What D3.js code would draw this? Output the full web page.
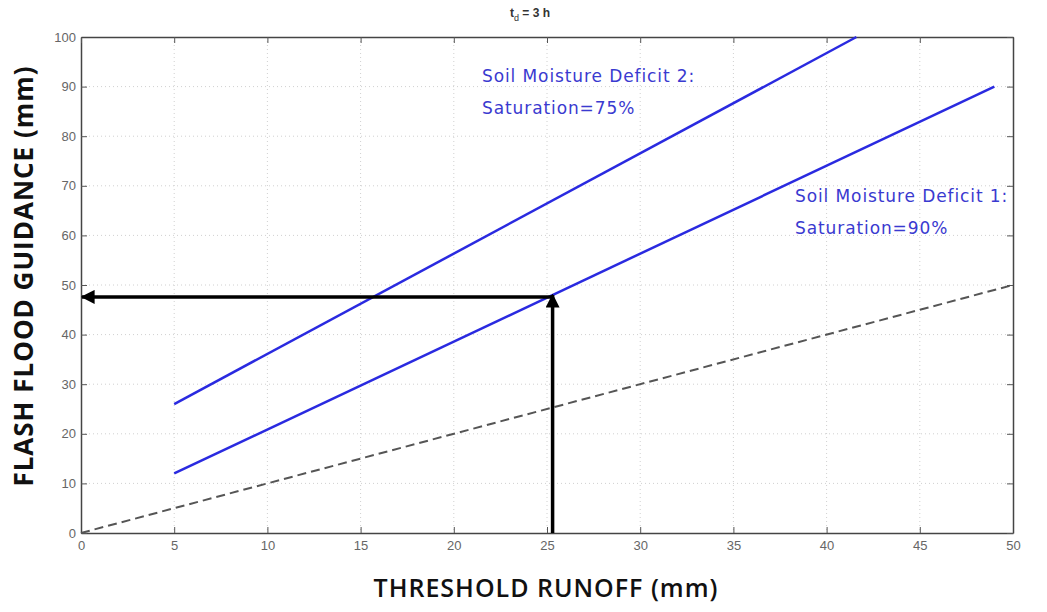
<!DOCTYPE html>
<html>
<head>
<meta charset="utf-8">
<script src="https://d3js.org/d3.v7.min.js"></script>
<style>
body { margin: 0; background: #fff; }
</style>
</head>
<body>
<div id="chart"></div>
<script>
// data
var xTicks = [0, 5, 10, 15, 20, 25, 30, 35, 40, 45, 50];
var yTicks = [0, 10, 20, 30, 40, 50, 60, 70, 80, 90, 100];
var deficit1 = [[5, 12], [49, 90]];
var deficit2 = [[5, 26], [41.6, 100]];
var oneToOne = [[0, 0], [50, 50]];
var runoffValue = 25.3;
var guidanceValue = 47.6;
var labels1 = ["Soil Moisture Deficit 1:", "Saturation=90%"];
var labels2 = ["Soil Moisture Deficit 2:", "Saturation=75%"];

var margin = {top: 37, right: 34, bottom: 79, left: 81};
var width = 1047 - margin.left - margin.right;
var height = 612 - margin.top - margin.bottom;

var x = d3.scaleLinear().domain([0, 50]).range([0, width]);
var y = d3.scaleLinear().domain([0, 100]).range([height, 0]);

var root = d3.select("#chart").append("svg")
    .attr("width", 1047)
    .attr("height", 612);

var defs = root.append("defs");
defs.append("marker")
    .attr("id", "head")
    .attr("viewBox", "0 0 10 10")
    .attr("refX", 9)
    .attr("refY", 5)
    .attr("markerWidth", 4)
    .attr("markerHeight", 4)
    .attr("markerUnits", "strokeWidth")
    .attr("orient", "auto")
    .append("path")
    .attr("d", "M0,0 L10,5 L0,10 Z")
    .attr("fill", "#000");

var svg = root.append("g")
    .attr("transform", "translate(" + margin.left + "," + margin.top + ")");

// grid (matlab style dotted)
svg.append("g").selectAll("line").data(xTicks.slice(1, -1)).enter().append("line")
    .attr("x1", function(d) { return x(d); })
    .attr("x2", function(d) { return x(d); })
    .attr("y1", 0).attr("y2", height)
    .attr("stroke", "#d0d0d0")
    .attr("stroke-width", 1)
    .attr("stroke-dasharray", "1,3");

svg.append("g").selectAll("line").data(yTicks.slice(1, -1)).enter().append("line")
    .attr("y1", function(d) { return y(d); })
    .attr("y2", function(d) { return y(d); })
    .attr("x1", 0).attr("x2", width)
    .attr("stroke", "#d0d0d0")
    .attr("stroke-width", 1)
    .attr("stroke-dasharray", "1,3");

// axes with inward ticks
svg.append("g")
    .attr("transform", "translate(0," + height + ")")
    .call(d3.axisBottom(x).tickValues(xTicks).tickSizeInner(-6).tickSizeOuter(0).tickPadding(8));
svg.append("g")
    .call(d3.axisLeft(y).tickValues(yTicks).tickSizeInner(-6).tickSizeOuter(0).tickPadding(5));
svg.append("g")
    .call(d3.axisTop(x).tickValues(xTicks).tickSizeInner(-6).tickSizeOuter(0).tickFormat(""));
svg.append("g")
    .attr("transform", "translate(" + width + ",0)")
    .call(d3.axisRight(y).tickValues(yTicks).tickSizeInner(-6).tickSizeOuter(0).tickFormat(""));

svg.selectAll(".domain").attr("stroke", "#444").attr("stroke-width", 1.5);
svg.selectAll(".tick line").attr("stroke", "#555");
svg.selectAll(".tick text")
    .attr("fill", "#666")
    .style("font-family", "'Liberation Sans', Arial, sans-serif")
    .style("font-size", "13px");

var line = d3.line()
    .x(function(d) { return x(d[0]); })
    .y(function(d) { return y(d[1]); });

svg.append("path").datum(oneToOne)
    .attr("d", line)
    .attr("fill", "none")
    .attr("stroke", "#555")
    .attr("stroke-width", 2)
    .attr("stroke-dasharray", "9,5");

svg.append("path").datum(deficit1)
    .attr("d", line)
    .attr("fill", "none")
    .attr("stroke", "#2a2ae0")
    .attr("stroke-width", 2.5);

svg.append("path").datum(deficit2)
    .attr("d", line)
    .attr("fill", "none")
    .attr("stroke", "#2a2ae0")
    .attr("stroke-width", 2.5);

// arrows
svg.append("line")
    .attr("x1", x(runoffValue)).attr("y1", y(0))
    .attr("x2", x(runoffValue)).attr("y2", y(guidanceValue) - 2)
    .attr("stroke", "#000")
    .attr("stroke-width", 3.5)
    .attr("marker-end", "url(#head)");

svg.append("line")
    .attr("x1", x(runoffValue)).attr("y1", y(guidanceValue))
    .attr("x2", x(0) + 1).attr("y2", y(guidanceValue))
    .attr("stroke", "#000")
    .attr("stroke-width", 3.5)
    .attr("marker-end", "url(#head)");

// annotations
function addLabel(lines, px, py) {
    svg.append("text")
        .attr("x", px).attr("y", py)
        .attr("fill", "#3a3ad0")
        .style("font-family", "'DejaVu Sans', Verdana, sans-serif")
        .style("font-size", "17px")
        .style("letter-spacing", "0.9px")
        .selectAll("tspan").data(lines).enter().append("tspan")
        .attr("x", px)
        .attr("dy", function(d, i) { return i === 0 ? 0 : 32; })
        .text(function(d) { return d; });
}
addLabel(labels2, 401, 45);
addLabel(labels1, 714, 165);

// title
var title = root.append("text")
    .attr("x", 530).attr("y", 17)
    .attr("text-anchor", "middle")
    .attr("fill", "#333")
    .style("font-family", "'Liberation Sans', Arial, sans-serif")
    .style("font-size", "12px")
    .style("font-weight", "bold");
title.append("tspan").text("t");
title.append("tspan").attr("dy", 4).style("font-size", "9px").style("font-weight", "normal").text("d");
title.append("tspan").attr("dy", -4).text(" = 3 h");

// axis labels
root.append("text")
    .attr("x", 546).attr("y", 597)
    .attr("text-anchor", "middle")
    .attr("fill", "#111")
    .style("font-family", "'Open Sans', sans-serif")
    .style("font-size", "25px")
    .style("font-weight", 600)
    .style("letter-spacing", "1px")
    .text("THRESHOLD RUNOFF (mm)");

root.append("text")
    .attr("transform", "translate(33,276) rotate(-90)")
    .attr("text-anchor", "middle")
    .attr("fill", "#111")
    .style("font-family", "'Open Sans', sans-serif")
    .style("font-size", "26px")
    .style("font-weight", "bold")
    .style("letter-spacing", "1px")
    .text("FLASH FLOOD GUIDANCE (mm)");
</script>
</body>
</html>
